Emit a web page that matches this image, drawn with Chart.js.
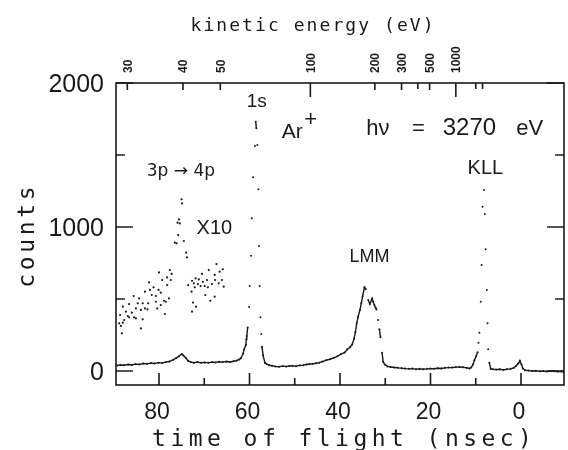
<!DOCTYPE html>
<html>
<head>
<meta charset="utf-8">
<script src="https://cdn.jsdelivr.net/npm/chart.js@4.4.1/dist/chart.umd.min.js"></script>
<style>
  html, body { margin: 0; padding: 0; background: #fff; }
  canvas { display: block; }
</style>
</head>
<body>
<canvas id="tofChart" width="568" height="450"></canvas>
<script>
// main spectrum: time of flight (nsec) and counts
const tofMain = [
  89.3, 88.5, 87.7, 86.8, 86.0, 85.2, 84.3, 83.5, 82.6, 81.8, 81.0, 80.1, 79.3, 78.5, 77.7, 76.9,
  76.2, 75.6, 75.0, 74.6, 74.1, 73.6, 73.0, 72.3, 71.5, 70.7, 69.9, 69.1, 68.3, 67.5, 66.7, 65.9,
  65.1, 64.3, 63.5, 62.9, 62.3, 61.9, 61.4, 61.2, 60.8, 60.7, 60.6, 60.4, 60.1, 59.95, 59.65, 59.5,
  59.2, 58.8, 58.63, 58.48, 58.26, 58.04, 57.9, 57.75, 57.6, 57.4, 57.24, 57.0, 56.6, 56.2, 55.6,
  55.0, 54.3, 53.5, 52.7, 51.9, 51.2, 50.5, 49.7, 48.9, 48.1, 47.4, 46.7, 46.0, 45.3, 44.6, 43.8,
  43.0, 42.2, 41.4, 40.6, 39.8, 39.0, 38.4, 37.8, 37.3, 36.9, 36.6, 36.3, 36.0, 35.6, 35.3, 35.0,
  34.6, 34.3, 33.76, 33.4, 32.9, 32.66, 32.4, 32.15, 31.93, 31.57, 31.3, 31.05, 30.7, 30.47, 30.1,
  29.5, 28.8, 28.0, 27.2, 26.4, 25.6, 24.8, 24.0, 23.2, 22.4, 21.6, 20.8, 20.0, 19.2, 18.4, 17.6,
  16.8, 16.0, 15.2, 14.4, 13.6, 12.8, 12.0, 11.4, 11.0, 10.6, 10.3, 9.9, 9.6, 9.4, 9.2, 8.9, 8.7,
  8.5, 8.14, 8.0, 7.8, 7.55, 7.4, 7.26, 7.0, 6.7, 6.2, 5.5, 4.7, 3.9, 3.1, 2.3, 1.6, 1.1, 0.6,
  0.25, -0.1, -0.4, -0.9, -1.7, -2.5, -3.3, -4.1, -4.9, -5.7, -6.5, -7.3, -8.1, -8.9, -9.4
];
const countsMain = [
  38, 42, 40, 45, 42, 48, 46, 52, 50, 55, 52, 58, 55, 62, 66, 78,
  90, 102, 118, 108, 92, 72, 62, 58, 62, 58, 60, 57, 62, 60, 64, 62,
  66, 63, 68, 72, 80, 88, 122, 150, 180, 220, 243, 303, 444, 590, 801, 1060,
  1345, 1562, 1731, 1685, 1569, 1262, 868, 590, 373, 257, 169, 109, 58, 48, 40,
  37, 32, 30, 34, 31, 35, 36, 34, 39, 41, 45, 49, 50, 54, 58, 66,
  76, 82, 92, 102, 118, 128, 150, 165, 185, 225, 270, 331, 377, 424, 470, 520,
  581, 567, 493, 465, 504, 481, 458, 441, 428, 354, 290, 234, 127, 65, 45,
  32, 28, 25, 22, 20, 17, 15, 17, 13, 15, 12, 15, 17, 16, 19, 18,
  22, 24, 25, 27, 28, 26, 22, 18, 24, 45, 75, 105, 130, 197, 266, 481, 736,
  1141, 1257, 1090, 845, 562, 331, 151, 58, 15, 12, 10, 12, 8, 12, 15, 22, 35, 52,
  72, 45, 18, 5, 3, 0, 2, -2, 0, -3, 0, -2, -4, -3, -5
];

// 3p -> 4p region, counts multiplied by ten
const tofX10 = [
  75.0, 74.9, 75.6, 75.9, 75.4, 75.75, 76.5, 76.1, 74.5, 74.0, 73.8,
  77.6, 80.0, 77.2, 78.2, 79.3, 77.4, 82.2, 78.2, 81.2, 82.0, 80.1, 83.1, 79.6, 85.6, 81.6,
  80.7, 84.4, 77.8, 78.9, 78.5, 86.6, 84.7, 83.6, 82.4, 80.7, 79.6, 88.0, 85.1, 83.1, 82.55,
  80.4, 87.3, 86.0, 84.0, 78.7, 88.6, 86.9, 86.6, 85.5, 85.1, 83.6, 87.7, 88.8, 88.0, 88.4,
  84.0, 88.2,
  67.3, 69.0, 65.9, 66.6, 70.5, 67.7, 71.9, 71.2, 72.7, 69.4, 67.6, 70.3, 66.1, 72.3, 71.4,
  73.55, 70.8, 69.9, 68.3, 66.8, 65.7, 72.1, 69.2, 72.8, 69.75, 67.7, 72.5, 68.65, 71.8, 72.7
];
const countsX10 = [
  1192, 1164, 1053, 1030, 1025, 944, 891, 887, 903, 822, 789,
  701, 685, 674, 650, 632, 632, 616, 597, 581, 563, 563, 551, 544, 521, 528,
  521, 505, 505, 488, 481, 465, 470, 470, 470, 481, 458, 447, 435, 435, 428,
  435, 412, 405, 424, 396, 389, 382, 373, 373, 366, 359, 354, 331, 336, 313,
  296, 262,
  743, 701, 706, 690, 674, 667, 643, 636, 627, 632, 632, 620, 632, 609, 604,
  597, 590, 590, 604, 609, 586, 581, 581, 551, 528, 516, 475, 488, 447, 412
];

// axis ticks
const countTicks = [0, 1000, 2000];
const countMinorTicks = [500, 1500];
const tofTicks = [80, 60, 40, 20, 0];
const tofMinorTicks = [70, 50, 30, 10];
// top axis: kinetic energy (eV) marked at its time of flight
const energyLabels = ['30', '40', '50', '100', '200', '300', '500', '1000'];
const energyTof = [87.0, 74.7, 66.45, 46.55, 32.3, 26.4, 20.2, 14.4];
const energyMinorTof = [22.8, 10.0, 8.5]; // 400, 2000, 3000 eV

const INK = '#1a1a1a';
const SANS = '"Liberation Sans"';

const mainPoints = tofMain.map((t, i) => ({ x: t, y: countsMain[i] }));
const x10Points = tofX10.map((t, i) => ({ x: t, y: countsX10[i] }));

// draws a string with a fixed character pitch (plotter look)
function pitchText(ctx, str, cx, y, pitch) {
  const x0 = cx - pitch * str.length / 2;
  ctx.textAlign = 'center';
  for (let i = 0; i < str.length; i++) {
    ctx.fillText(str[i], x0 + pitch * (i + 0.5), y);
  }
}

const framePlugin = {
  id: 'frame',
  afterDraw(chart) {
    const ctx = chart.ctx;
    const { left, right, top, bottom } = chart.chartArea;
    const xs = chart.scales.x, ys = chart.scales.y;
    ctx.save();
    ctx.strokeStyle = INK;
    ctx.fillStyle = INK;
    ctx.lineWidth = 1.6;
    ctx.strokeRect(left, top, right - left, bottom - top);

    // inward ticks, left and right
    ctx.beginPath();
    countTicks.forEach(v => {
      const y = ys.getPixelForValue(v);
      ctx.moveTo(left, y); ctx.lineTo(left + 17, y);
      ctx.moveTo(right, y); ctx.lineTo(right - 17, y);
    });
    countMinorTicks.forEach(v => {
      const y = ys.getPixelForValue(v);
      ctx.moveTo(left, y); ctx.lineTo(left + 9, y);
      ctx.moveTo(right, y); ctx.lineTo(right - 9, y);
    });
    // bottom ticks
    tofTicks.forEach(v => {
      const x = xs.getPixelForValue(v);
      ctx.moveTo(x, bottom); ctx.lineTo(x, bottom - 12);
    });
    tofMinorTicks.forEach(v => {
      const x = xs.getPixelForValue(v);
      ctx.moveTo(x, bottom); ctx.lineTo(x, bottom - 7);
    });
    // top energy ticks
    energyTof.forEach((v, i) => {
      const x = xs.getPixelForValue(v);
      const len = (energyLabels[i] === '100' || energyLabels[i] === '1000') ? 14 : 7;
      ctx.moveTo(x, top); ctx.lineTo(x, top + len);
    });
    energyMinorTof.forEach(v => {
      const x = xs.getPixelForValue(v);
      ctx.moveTo(x, top); ctx.lineTo(x, top + 6);
    });
    ctx.stroke();

    // tick labels
    ctx.font = '25px ' + SANS;
    ctx.textAlign = 'right';
    ctx.textBaseline = 'middle';
    countTicks.forEach(v => ctx.fillText(String(v), left - 12, ys.getPixelForValue(v) + 2));

    ctx.font = '23px ' + SANS;
    ctx.textAlign = 'center';
    ctx.textBaseline = 'top';
    tofTicks.forEach(v => ctx.fillText(String(v), xs.getPixelForValue(v) - 2, bottom + 16));

    ctx.font = 'bold 12px ' + SANS;
    ctx.textAlign = 'left';
    ctx.textBaseline = 'middle';
    energyTof.forEach((v, i) => {
      ctx.save();
      ctx.translate(xs.getPixelForValue(v) + 1, top - 10);
      ctx.rotate(-Math.PI / 2);
      ctx.fillText(energyLabels[i], 0, 0);
      ctx.restore();
    });

    // axis titles
    ctx.textBaseline = 'alphabetic';
    ctx.font = '23px "DejaVu Sans Mono"';
    pitchText(ctx, 'time of flight (nsec)', 342, 446, 18.3);
    ctx.font = '18px "DejaVu Sans Mono"';
    pitchText(ctx, 'kinetic energy (eV)', 312, 31, 12.9);
    ctx.save();
    ctx.translate(34, 237);
    ctx.rotate(-Math.PI / 2);
    ctx.font = '23px "DejaVu Sans Mono"';
    pitchText(ctx, 'counts', 0, 0, 17.5);
    ctx.restore();

    // peak annotations, placed in data coordinates
    const put = (txt, t, c, size, family) => {
      ctx.font = size + 'px ' + (family || SANS);
      ctx.textAlign = 'left';
      ctx.fillText(txt, xs.getPixelForValue(t), ys.getPixelForValue(c));
    };
    put('1s', 60.6, 1833, 19);
    put('Ar', 52.85, 1618, 21);
    put('+', 47.9, 1700, 22);
    put('h\u03bd', 34.2, 1639, 22);
    put('=', 24.1, 1639, 22);
    put('3270', 17.3, 1639, 24);
    put('eV', 1.05, 1639, 22);
    put('3p \u2192 4p', 82.7, 1354, 17, '"DejaVu Sans"');
    put('X10', 71.7, 951, 20);
    put('LMM', 37.9, 757, 18);
    put('KLL', 11.8, 1368, 20);
    ctx.restore();
  }
};

new Chart(document.getElementById('tofChart').getContext('2d'), {
  type: 'scatter',
  data: {
    datasets: [
      {
        label: 'Ar+ spectrum',
        data: mainPoints,
        showLine: true,
        borderColor: INK,
        borderWidth: 1.4,
        backgroundColor: INK,
        pointRadius: 1,
        pointBorderWidth: 0,
        // only join neighbouring dots, isolated dots on the peaks stay single
        segment: {
          borderColor: c => Math.hypot(c.p1.x - c.p0.x, c.p1.y - c.p0.y) > 9 ? 'rgba(0,0,0,0)' : INK
        }
      },
      {
        label: 'x10',
        data: x10Points,
        showLine: false,
        backgroundColor: INK,
        pointRadius: 1.1,
        pointBorderWidth: 0
      }
    ]
  },
  options: {
    responsive: false,
    animation: false,
    devicePixelRatio: 1,
    layout: { padding: { left: 0, right: 1, top: 0, bottom: 0 } },
    plugins: { legend: { display: false }, tooltip: { enabled: false } },
    scales: {
      x: {
        type: 'linear', position: 'bottom', reverse: true, min: -9.5, max: 89.5,
        ticks: { display: false }, grid: { display: false }, border: { display: false },
        afterFit(s) { s.height = 65; }
      },
      x2: {
        type: 'linear', position: 'top', reverse: true, min: -9.5, max: 89.5,
        ticks: { display: false }, grid: { display: false }, border: { display: false },
        afterFit(s) { s.height = 83; }
      },
      y: {
        type: 'linear', position: 'left', min: -97, max: 2000,
        ticks: { display: false }, grid: { display: false }, border: { display: false },
        afterFit(s) { s.width = 116; }
      }
    }
  },
  plugins: [framePlugin]
});
</script>
</body>
</html>
